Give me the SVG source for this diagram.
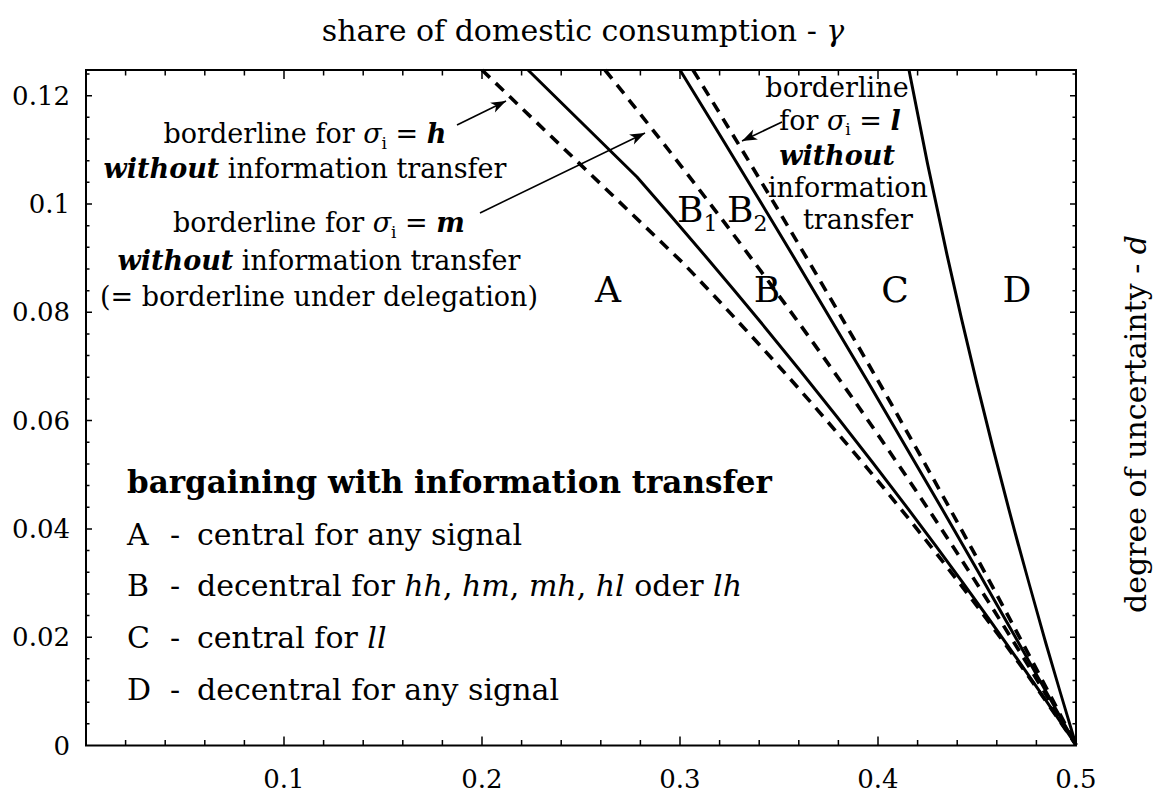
<svg xmlns="http://www.w3.org/2000/svg" width="1160" height="796" viewBox="0 0 1160 796">
<style>
text{font-family:"DejaVu Serif","Liberation Serif",serif;fill:#000}
.tick{font-size:26px}
.ax{font-size:30px}
.ann{font-size:27px}
.reg{font-size:36px}
.leg{font-size:30px}
.bi{font-weight:bold;font-style:italic}
.it{font-style:italic}
.sub{font-size:17px}
.frame{fill:none;stroke:#000;stroke-width:2}
.tk{fill:none;stroke:#000;stroke-width:1.5}
.sol{fill:none;stroke:#000;stroke-width:3;stroke-linejoin:round}
.dsh{fill:none;stroke:#000;stroke-width:3.6;stroke-dasharray:11 8;stroke-linejoin:round}
.arr{fill:none;stroke:#000;stroke-width:1.6;marker-end:url(#ah)}
</style>
<defs>
<marker id="ah" markerUnits="userSpaceOnUse" markerWidth="20" markerHeight="14" refX="16" refY="7" orient="auto" overflow="visible">
<path d="M16,7 L1,1.5 L5,7 L1,12.5 Z" fill="#000"/>
</marker>
<path id="yt" class="tk" d="M86,723.84h3.5M86,702.18h3.5M86,680.52h3.5M86,658.86h3.5M86,637.2h6M86,615.54h3.5M86,593.88h3.5M86,572.22h3.5M86,550.56h3.5M86,528.9h6M86,507.24h3.5M86,485.58h3.5M86,463.92h3.5M86,442.26h3.5M86,420.6h6M86,398.94h3.5M86,377.28h3.5M86,355.62h3.5M86,333.96h3.5M86,312.3h6M86,290.64h3.5M86,268.98h3.5M86,247.32h3.5M86,225.66h3.5M86,204h6M86,182.34h3.5M86,160.68h3.5M86,139.02h3.5M86,117.36h3.5M86,95.7h6M86,74.04h3.5"/>
<path id="xt" class="tk" d="M125.6,745.5v-5.5M165.2,745.5v-5.5M204.8,745.5v-5.5M244.4,745.5v-5.5M284,745.5v-9M323.6,745.5v-5.5M363.2,745.5v-5.5M402.8,745.5v-5.5M442.4,745.5v-5.5M482,745.5v-9M521.6,745.5v-5.5M561.2,745.5v-5.5M600.8,745.5v-5.5M640.4,745.5v-5.5M680,745.5v-9M719.6,745.5v-5.5M759.2,745.5v-5.5M798.8,745.5v-5.5M838.4,745.5v-5.5M878,745.5v-9M917.6,745.5v-5.5M957.2,745.5v-5.5M996.8,745.5v-5.5M1036.4,745.5v-5.5"/>
</defs>
<rect width="1160" height="796" fill="#fff"/>

<g id="axes">
<rect class="frame" x="86" y="70" width="990" height="675.5"/>
<use href="#yt"/>
<use href="#yt" transform="matrix(-1 0 0 1 1162 0)"/>
<use href="#xt"/>
<use href="#xt" transform="matrix(1 0 0 -1 0 815.5)"/>
<g class="tick" text-anchor="end">
<text x="70" y="104.5">0.12</text>
<text x="70" y="213">0.1</text>
<text x="70" y="321.3">0.08</text>
<text x="70" y="429.6">0.06</text>
<text x="70" y="537.9">0.04</text>
<text x="70" y="646.2">0.02</text>
<text x="70" y="754.5">0</text>
</g>
<g class="tick" text-anchor="middle">
<text x="284" y="788">0.1</text>
<text x="482" y="788">0.2</text>
<text x="680" y="788">0.3</text>
<text x="878" y="788">0.4</text>
<text x="1076" y="788">0.5</text>
</g>
<text class="ax" x="583" y="41" text-anchor="middle">share of domestic consumption - <tspan class="it">γ</tspan></text>
<text class="ax" transform="translate(1146,424) rotate(-90)" text-anchor="middle">degree of uncertainty - <tspan class="it">d</tspan></text>
</g>

<g id="connectors">
<path id="curve-h" class="dsh" d="M482,70 L683,263 Q914.1,504 1076,745"/>
<path id="curve-hm" class="sol" d="M528,70 L637,177 Q886.6,461 1076,745"/>
<path id="curve-m" class="dsh" d="M605,70 Q877.6,407.5 1076,745"/>
<path id="curve-bc" class="sol" d="M680,70 Q888,407.5 1076,745"/>
<path id="curve-l" class="dsh" d="M693,70 Q902,407.5 1076,745"/>
<path id="curve-cd" class="sol" d="M909,70 Q973.1,407.5 1076,745"/>
<path id="arrow-h" class="arr" d="M457,125 L506,101"/>
<path id="arrow-m" class="arr" d="M480,213 L645,133"/>
<path id="arrow-l" class="arr" d="M782,122 L742,141"/>
</g>

<g id="label-h" class="ann" text-anchor="middle">
<text x="305" y="143">borderline for <tspan class="it">σ</tspan><tspan class="sub" dy="6">i</tspan><tspan dy="-6"> = </tspan><tspan class="bi">h</tspan></text>
<text x="305" y="178"><tspan class="bi">without</tspan> information transfer</text>
</g>
<g id="label-m" class="ann" text-anchor="middle">
<text x="319" y="232">borderline for <tspan class="it">σ</tspan><tspan class="sub" dy="6">i</tspan><tspan dy="-6"> = </tspan><tspan class="bi">m</tspan></text>
<text x="319" y="270"><tspan class="bi">without</tspan> information transfer</text>
<text x="319" y="306">(= borderline under delegation)</text>
</g>
<g id="label-l" class="ann" text-anchor="middle">
<text x="837" y="97">borderline</text>
<text x="840" y="130">for <tspan class="it">σ</tspan><tspan class="sub" dy="5">i</tspan><tspan dy="-5"> = </tspan><tspan class="bi">l</tspan></text>
<text x="837" y="165" class="bi">without</text>
<text x="848" y="197">information</text>
<text x="858" y="229">transfer</text>
</g>

<g id="region-A"><text class="reg" x="608" y="302" text-anchor="middle">A</text></g>
<g id="region-B"><text class="reg" x="767" y="302" text-anchor="middle">B</text></g>
<g id="region-C"><text class="reg" x="895" y="302" text-anchor="middle">C</text></g>
<g id="region-D"><text class="reg" x="1017" y="302" text-anchor="middle">D</text></g>
<g id="region-B1"><text class="reg" x="677" y="222">B<tspan font-size="22" dy="9">1</tspan></text></g>
<g id="region-B2"><text class="reg" x="727" y="222">B<tspan font-size="22" dy="9">2</tspan></text></g>

<g id="legend" class="leg">
<text x="127" y="493" font-weight="bold" font-size="31">bargaining with information transfer</text>
<text x="127" y="545">A</text><text x="170" y="545">-</text><text x="197" y="545">central for any signal</text>
<text x="127" y="596">B</text><text x="170" y="596">-</text><text x="197" y="596">decentral for <tspan class="it">hh</tspan>, <tspan class="it">hm</tspan>, <tspan class="it">mh</tspan>, <tspan class="it">hl</tspan> oder <tspan class="it">lh</tspan></text>
<text x="127" y="648">C</text><text x="170" y="648">-</text><text x="197" y="648">central for <tspan class="it">ll</tspan></text>
<text x="127" y="700">D</text><text x="170" y="700">-</text><text x="197" y="700">decentral for any signal</text>
</g>
</svg>
